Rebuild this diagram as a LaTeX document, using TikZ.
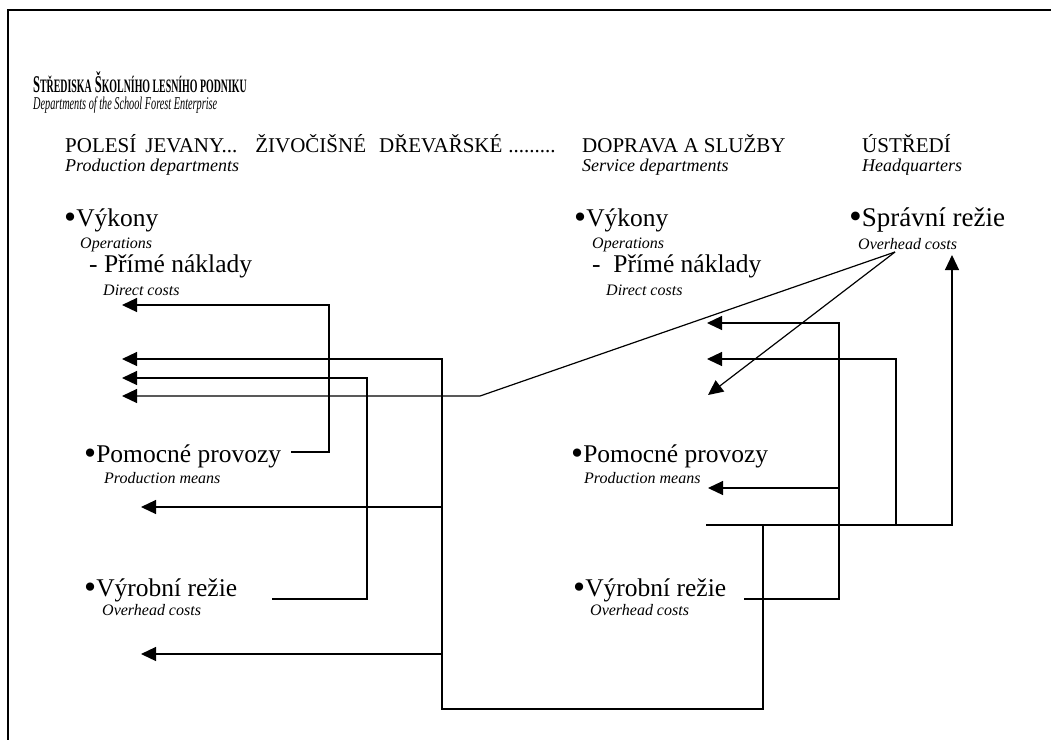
\documentclass[tikz,border=0pt]{standalone}
\usepackage{fontspec}
\setmainfont{Liberation Serif}
\usetikzlibrary{arrows.meta}
\newcommand{\smc}[1]{{\fontsize{19}{21}\selectfont #1}}
\newcommand{\dotmark}{\raisebox{-0.1em}{\scalebox{1.35}{•}}}
\tikzset{
  head/.style={inner sep=0, anchor=base west, font=\fontsize{21}{24}\selectfont},
  dept/.style={inner sep=0, anchor=base west, font=\fontsize{18}{20}\selectfont\itshape},
  item/.style={inner sep=0, anchor=base west, font=\fontsize{25.5}{28}\selectfont},
  note/.style={inner sep=0, anchor=base west, font=\fontsize{16}{18}\selectfont\itshape},
  link/.style={line width=1.2pt},
  flow/.style={link, -{Triangle[length=15pt,width=14pt]}},
}

\begin{document}
\begin{tikzpicture}[x=1pt, y=-1pt]
  \useasboundingbox (0,0) rectangle (1051,740);
  \draw [line width=1.6pt] (1051,10) -- (8,10) -- (8,740);

  % titles
  \node [head] (title) at (33,92)
    {\scalebox{0.52}[1]{\fontsize{24}{26}\selectfont\bfseries S\smc{TŘEDISKA} Š\smc{KOLNÍHO LESNÍHO PODNIKU}}};
  \node [note] (subtitle) at (33,109)
    {\scalebox{0.57}[1]{\fontsize{18}{20}\selectfont\itshape Departments of the School Forest Enterprise}};

  \node [head] (prod) at (65,152) {POLESÍ\hspace{9pt}JEVANY...\hspace{18pt}ŽIVOČIŠNÉ\hspace{13pt}DŘEVAŘSKÉ\hspace{6pt}.........};
  \node [dept] (prodE) at (65,171) {Production departments};
  \node [head] (serv) at (582,152) {DOPRAVA A SLUŽBY};
  \node [dept] (servE) at (582,171) {Service departments};
  \node [head] (hq) at (862,152) {ÚSTŘEDÍ};
  \node [dept] (hqE) at (862,171) {Headquarters};

  % production departments
  \node [item] (vykL) at (64,226) {\dotmark Výkony};
  \node [note] (vykLE) at (80,248) {Operations};
  \node [item] (pnL) at (89,272) {- Přímé náklady};
  \node [note] (pnLE) at (103,295) {Direct costs};
  \node [item] (pomL) at (84,462) {\dotmark Pomocné provozy};
  \node [note] (pomLE) at (104,483) {Production means};
  \node [item] (vyrL) at (84,596) {\dotmark Výrobní režie};
  \node [note] (vyrLE) at (102,615) {Overhead costs};

  % service departments
  \node [item] (vykR) at (574,226) {\dotmark Výkony};
  \node [note] (vykRE) at (592,248) {Operations};
  \node [item] (pnR) at (592,272) {-\ \ Přímé náklady};
  \node [note] (pnRE) at (606,295) {Direct costs};
  \node [item] (pomR) at (571,462) {\dotmark Pomocné provozy};
  \node [note] (pomRE) at (584,483) {Production means};
  \node [item] (vyrR) at (573,596) {\dotmark Výrobní režie};
  \node [note] (vyrRE) at (590,615) {Overhead costs};

  % headquarters
  \node [item, font=\fontsize{27}{30}\selectfont] (spr) at (849,226) {\dotmark Správní režie};
  \node [note] (sprE) at (858,249) {Overhead costs};

  % ends of the connectors
  \coordinate (tPrime) at (122,305);
  \coordinate (tA2) at (122,359);
  \coordinate (tA3) at (122,378);
  \coordinate (tA4) at (122,396);
  \coordinate (tPom) at (141,507);
  \coordinate (tVyr) at (141,654);
  \coordinate (tB1) at (707,323);
  \coordinate (tB2) at (707,359);
  \coordinate (tB3) at (708,395);
  \coordinate (tB4) at (708,488);
  \coordinate (tSpr) at (952,255);
  \coordinate (sPomL) at (291,452);
  \coordinate (sVyrL) at (272,599);
  \coordinate (sPomR) at (706,525);
  \coordinate (sVyrR) at (744,599);
  \coordinate (hub) at (895,252);
  \coordinate (kink) at (480,396);
  \coordinate (busL) at (442,709);
  \coordinate (busB1) at (839,599);
  \coordinate (busB2) at (896,525);

  % connectors
  \draw [flow] (sPomL) -- ++(38,0) |- (tPrime);
  \draw [flow] (sVyrL) -- ++(95,0) |- (tA3);
  \draw [flow] (sPomR) -| (763,709) -| (442,359) -- (tA2);
  \draw [flow] (tPom -| busL) -- (tPom);
  \draw [flow] (tVyr -| busL) -- (tVyr);
  \draw [flow] (hub) -- (kink) -- (tA4);
  \draw [flow] (hub) -- (tB3);
  \draw [flow] (sPomR) -| (tSpr);
  \draw [flow] (busB2) |- (tB2);
  \draw [flow] (sVyrR) -- (busB1) |- (tB1);
  \draw [flow] (tB4 -| busB1) -- (tB4);
\end{tikzpicture}
\end{document}
